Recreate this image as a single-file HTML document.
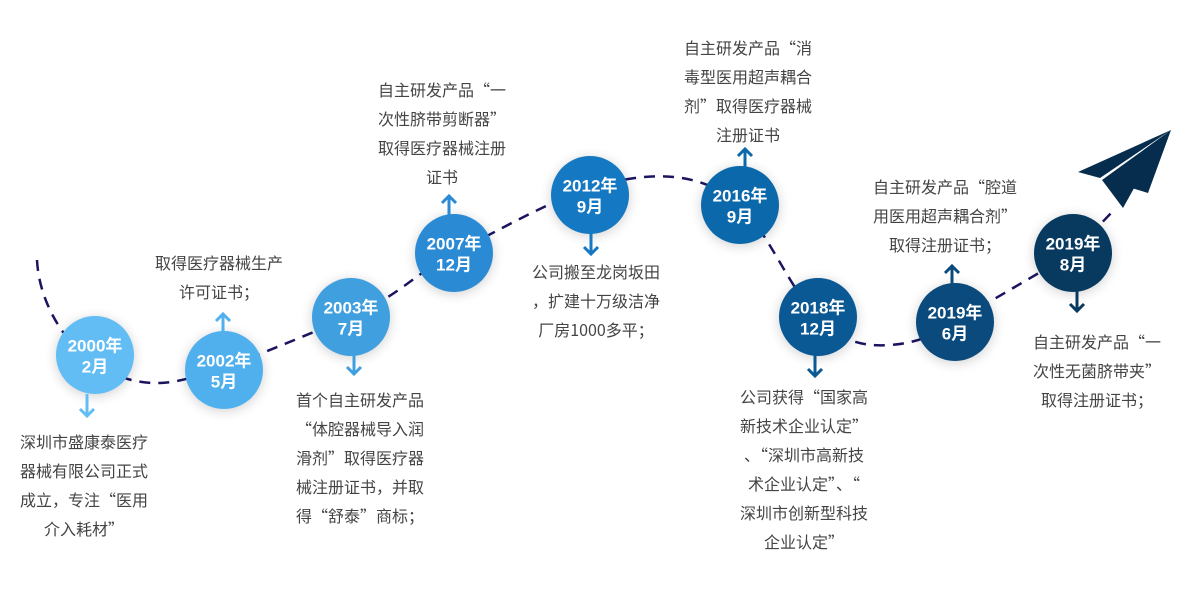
<!DOCTYPE html>
<html><head><meta charset="utf-8"><style>
html,body{margin:0;padding:0;background:#fff;width:1200px;height:602px;overflow:hidden}
svg{display:block}
.t{font-family:"Noto Sans CJK SC","Liberation Sans",sans-serif;font-size:16px;fill:#444;text-anchor:middle;dominant-baseline:central}
.c{font-family:"Liberation Sans","Noto Sans CJK SC",sans-serif;font-size:17px;font-weight:bold;fill:#fff;text-anchor:middle;dominant-baseline:central}
</style></head><body>
<svg width="1200" height="602" viewBox="0 0 1200 602">
<defs>
<filter id="sh" x="-50%" y="-50%" width="200%" height="200%"><feGaussianBlur stdDeviation="6"/></filter>
<g id="au"><path d="M0,-14 L0,8 M-7,-7 L0,-14 L7,-7" fill="none" stroke-width="3"/></g>
<g id="ad"><path d="M0,14 L0,-8 M-7,7 L0,14 L7,7" fill="none" stroke-width="3"/></g>
</defs>
<path d="M37,260 C40,320 90,385 160,383 C200,382 280,345 351,317 C400,295 420,270 454,253 C500,230 550,200 600,185 C650,172 700,170 740,205 C770,235 790,290 818,317 C840,340 860,347 890,345 C920,343 940,332 955,322 L1073,253 L1112,212" fill="none" stroke="#1b1560" stroke-width="2.5" stroke-dasharray="11 8"/>
<g opacity="0.18" fill="#000" filter="url(#sh)">
<circle cx="95" cy="357" r="39"/><circle cx="224" cy="372" r="39"/><circle cx="351" cy="319" r="39"/><circle cx="454" cy="255" r="39"/><circle cx="590" cy="197" r="39"/><circle cx="740" cy="207" r="39"/><circle cx="818" cy="319" r="39"/><circle cx="955" cy="324" r="39"/><circle cx="1073" cy="255" r="39"/>
</g>
<circle cx="95" cy="355" r="39" fill="#63bdf5"/>
<circle cx="224" cy="370" r="39" fill="#50b0ee"/>
<circle cx="351" cy="317" r="39" fill="#3f9fdf"/>
<circle cx="454" cy="253" r="39" fill="#2a8ad4"/>
<circle cx="590" cy="195" r="39" fill="#1478c2"/>
<circle cx="740" cy="205" r="39" fill="#0b68ab"/>
<circle cx="818" cy="317" r="39" fill="#0a5894"/>
<circle cx="955" cy="322" r="39" fill="#0a4a7c"/>
<circle cx="1073" cy="253" r="39" fill="#083a60"/>
<text class="c" x="95" y="346">2000年</text><text class="c" x="95" y="367">2月</text>
<text class="c" x="224" y="361">2002年</text><text class="c" x="224" y="382">5月</text>
<text class="c" x="351" y="308">2003年</text><text class="c" x="351" y="329">7月</text>
<text class="c" x="454" y="244">2007年</text><text class="c" x="454" y="265">12月</text>
<text class="c" x="590" y="186">2012年</text><text class="c" x="590" y="207">9月</text>
<text class="c" x="740" y="196">2016年</text><text class="c" x="740" y="217">9月</text>
<text class="c" x="818" y="308">2018年</text><text class="c" x="818" y="329">12月</text>
<text class="c" x="955" y="313">2019年</text><text class="c" x="955" y="334">6月</text>
<text class="c" x="1073" y="244">2019年</text><text class="c" x="1073" y="265">8月</text>
<use href="#ad" x="87" y="402" stroke="#63bdf5"/>
<use href="#au" x="223" y="328" stroke="#50b0ee"/>
<use href="#ad" x="354" y="360" stroke="#3f9fdf"/>
<use href="#au" x="449" y="210" stroke="#2a8ad4"/>
<use href="#ad" x="591" y="240" stroke="#1478c2"/>
<use href="#au" x="745" y="163" stroke="#0b68ab"/>
<use href="#ad" x="815" y="362" stroke="#0a5894"/>
<use href="#au" x="952" y="280" stroke="#0a4a7c"/>
<use href="#ad" x="1077" y="297" stroke="#083a60"/>
<g fill="#062d4e">
<polygon points="1171,130 1078,172 1100,178"/>
<polygon points="1171,130 1102,180 1123,208 1133,190"/>
<polygon points="1171,130 1112,182 1148,193"/>
</g>
<text class="t" x="84" y="441">深圳市盛康泰医疗</text><text class="t" x="84" y="470">器械有限公司正式</text><text class="t" x="84" y="499">成立，专注“医用</text><text class="t" x="84" y="528">介入耗材”</text>
<text class="t" x="219" y="262">取得医疗器械生产</text><text class="t" x="219" y="291">许可证书；</text>
<text class="t" x="360" y="399">首个自主研发产品</text><text class="t" x="360" y="428">“体腔器械导入润</text><text class="t" x="360" y="457">滑剂”取得医疗器</text><text class="t" x="360" y="486">械注册证书，并取</text><text class="t" x="360" y="515">得“舒泰”商标；</text>
<text class="t" x="442" y="89">自主研发产品“一</text><text class="t" x="442" y="118">次性脐带剪断器”</text><text class="t" x="442" y="147">取得医疗器械注册</text><text class="t" x="442" y="176">证书</text>
<text class="t" x="596" y="271">公司搬至龙岗坂田</text><text class="t" x="596" y="300">，扩建十万级洁净</text><text class="t" x="596" y="329">厂房1000多平；</text>
<text class="t" x="748" y="47">自主研发产品“消</text><text class="t" x="748" y="76">毒型医用超声耦合</text><text class="t" x="748" y="105">剂”取得医疗器械</text><text class="t" x="748" y="134">注册证书</text>
<text class="t" x="804" y="396">公司获得“国家高</text><text class="t" x="804" y="425">新技术企业认定”</text><text class="t" x="804" y="454">、“深圳市高新技</text><text class="t" x="804" y="483">术企业认定”、“</text><text class="t" x="804" y="512">深圳市创新型科技</text><text class="t" x="804" y="541">企业认定”</text>
<text class="t" x="945" y="186">自主研发产品“腔道</text><text class="t" x="945" y="215">用医用超声耦合剂”</text><text class="t" x="945" y="244">取得注册证书；</text>
<text class="t" x="1097" y="341">自主研发产品“一</text><text class="t" x="1097" y="370">次性无菌脐带夹”</text><text class="t" x="1097" y="399">取得注册证书；</text>
</svg>
</body></html>
